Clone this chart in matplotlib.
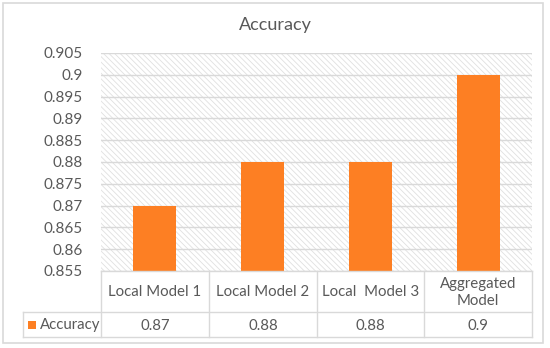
import matplotlib
matplotlib.use("Agg")
import matplotlib.pyplot as plt
from matplotlib.patches import Rectangle
from matplotlib.lines import Line2D

categories = ["Local Model 1", "Local Model 2", "Local  Model 3", "Aggregated\nModel"]
values = [0.87, 0.88, 0.88, 0.9]
value_labels = ["0.87", "0.88", "0.88", "0.9"]
series_name = "Accuracy"
title = "Accuracy"
yticks = [0.855, 0.86, 0.865, 0.87, 0.875, 0.88, 0.885, 0.89, 0.895, 0.9, 0.905]
ytick_labels = ["0.855", "0.86", "0.865", "0.87", "0.875", "0.88", "0.885", "0.89", "0.895", "0.9", "0.905"]

W, H = 550, 348
plt.rcParams['hatch.linewidth'] = 0.6
plt.rcParams['font.family'] = ['Lato', 'DejaVu Sans']
fig = plt.figure(figsize=(W/100, H/100), dpi=100)

def fx(px): return px / W
def fy(py): return 1 - py / H

grey_txt = '#595959'
line_c = '#d9d9d9'
orange = '#fd7f23'

# outer border
fig.add_artist(Rectangle((fx(3), fy(343)), fx(540), (340)/H, transform=fig.transFigure,
                         fill=False, edgecolor=line_c, linewidth=1.2))

left, right, top, bottom = 101, 532, 53, 271
ax = fig.add_axes([fx(left), fy(bottom), (right-left)/W, (bottom-top)/H])
ax.set_xlim(-0.5, len(categories)-0.5)
ax.set_ylim(yticks[0], yticks[-1])
ax.add_patch(Rectangle((0, 0), 1, 1, transform=ax.transAxes, facecolor='white',
                       hatch='\\\\\\\\\\\\', edgecolor='#e0e0e0', linewidth=0, zorder=0))
for t in yticks:
    ax.axhline(t, color=line_c, linewidth=1.0, zorder=1)
ax.bar(range(len(categories)), values, width=0.4, color=orange, zorder=3)
ax.set_yticks(yticks)
ax.set_yticklabels(ytick_labels, fontsize=11, color=grey_txt)
ax.set_xticks([])
ax.tick_params(axis='y', length=0, pad=13)
for s in ax.spines.values():
    s.set_visible(False)

fig.text(fx(275), fy(25), title, ha='center', va='center', fontsize=13, color=grey_txt)

# data table
cols = [101, 209, 317, 424, 532]
r0, r1, r2 = 271, 312, 337
tl = 23
lw = 1.0
def hline(x0, x1, y):
    fig.add_artist(Line2D([fx(x0), fx(x1)], [fy(y), fy(y)], color=line_c, linewidth=lw))
def vline(x, y0, y1):
    fig.add_artist(Line2D([fx(x), fx(x)], [fy(y0), fy(y1)], color=line_c, linewidth=lw))
hline(cols[0], cols[-1], r0)
hline(tl, cols[-1], r1)
hline(tl, cols[-1], r2)
for c in cols:
    vline(c, r0, r2)
vline(tl, r1, r2)
for i, cat in enumerate(categories):
    cx = (cols[i] + cols[i+1]) / 2
    fig.text(fx(cx), fy((r0 + r1) / 2 + 1), cat, ha='center', va='center',
             fontsize=10.8, color=grey_txt, linespacing=1.35)
    fig.text(fx(cx), fy((r1 + r2) / 2 + 1), value_labels[i], ha='center', va='center',
             fontsize=10.8, color=grey_txt)
fig.add_artist(Rectangle((fx(28), fy(329)), 8/W, 8/H, transform=fig.transFigure,
                         facecolor=orange, edgecolor='none'))
fig.text(fx(40), fy((r1 + r2) / 2 + 1), series_name, ha='left', va='center',
         fontsize=10.8, color=grey_txt)

fig.savefig("out.png", dpi=100)
